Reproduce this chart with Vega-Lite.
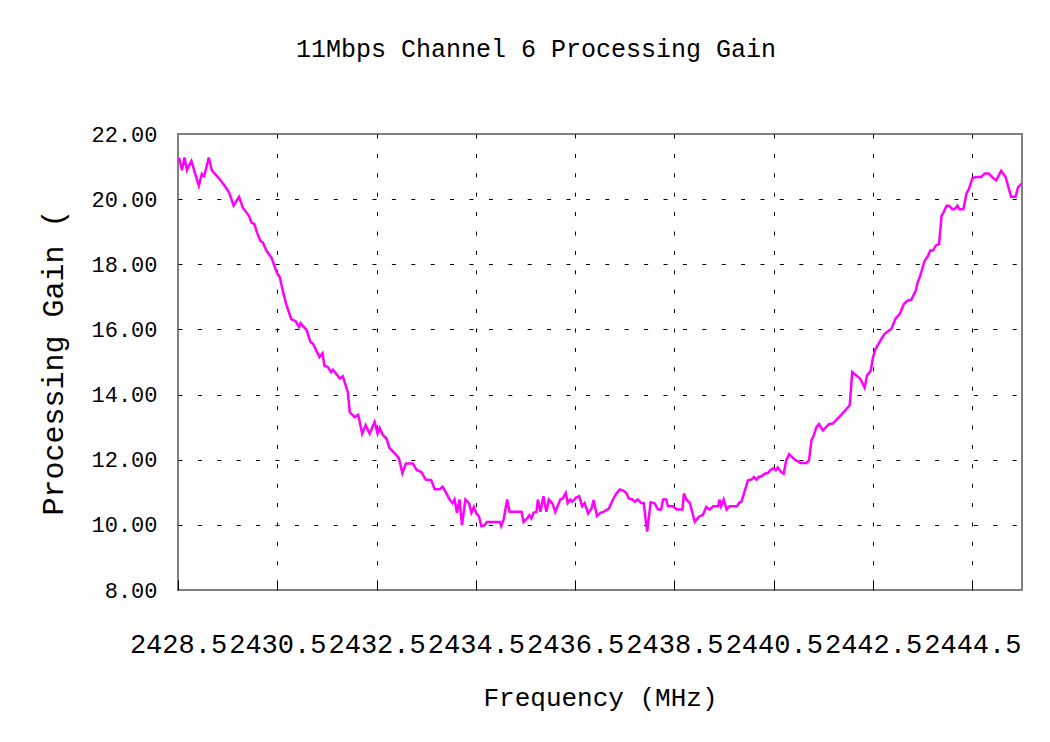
{
  "$schema": "https://vega.github.io/schema/vega-lite/v6.json",
  "width": 844,
  "height": 456,
  "autosize": "none",
  "padding": {"left": 178, "top": 134, "right": 28, "bottom": 152},
  "background": "white",
  "title": {"text": "11Mbps Channel 6 Processing Gain", "font": "Liberation Mono", "fontSize": 25, "fontWeight": "normal", "color": "#000", "anchor": "middle", "frame": "group", "dx": -64, "offset": 41, "baseline": "alphabetic"},
  "config": {
    "view": {"stroke": "#808080", "strokeWidth": 2},
    "axis": {"labelFont": "Liberation Mono", "titleFont": "Liberation Mono", "labelColor": "#000", "titleColor": "#000", "titleFontWeight": "normal", "domain": false, "gridColor": "#000", "gridDash": [4, 15.4], "gridWidth": 1}
  },
  "data": {"values": [
    {"freq": 2428.52, "gain": 21.28}, {"freq": 2428.58, "gain": 20.89}, {"freq": 2428.63, "gain": 21.28}, {"freq": 2428.68, "gain": 20.89},
    {"freq": 2428.77, "gain": 21.17}, {"freq": 2428.92, "gain": 20.41}, {"freq": 2428.98, "gain": 20.78}, {"freq": 2429.03, "gain": 20.71},
    {"freq": 2429.12, "gain": 21.28}, {"freq": 2429.18, "gain": 20.89}, {"freq": 2429.34, "gain": 20.61}, {"freq": 2429.44, "gain": 20.41},
    {"freq": 2429.53, "gain": 20.2}, {"freq": 2429.62, "gain": 19.8}, {"freq": 2429.73, "gain": 20.07}, {"freq": 2429.81, "gain": 19.72},
    {"freq": 2429.93, "gain": 19.49}, {"freq": 2429.98, "gain": 19.28}, {"freq": 2430.04, "gain": 19.23}, {"freq": 2430.09, "gain": 18.98},
    {"freq": 2430.16, "gain": 18.72}, {"freq": 2430.21, "gain": 18.67}, {"freq": 2430.28, "gain": 18.42}, {"freq": 2430.38, "gain": 18.21},
    {"freq": 2430.49, "gain": 17.75}, {"freq": 2430.55, "gain": 17.6}, {"freq": 2430.61, "gain": 17.19}, {"freq": 2430.68, "gain": 16.78},
    {"freq": 2430.78, "gain": 16.32}, {"freq": 2430.87, "gain": 16.25}, {"freq": 2430.94, "gain": 16.07}, {"freq": 2430.97, "gain": 16.19},
    {"freq": 2431.09, "gain": 15.98}, {"freq": 2431.17, "gain": 15.61}, {"freq": 2431.22, "gain": 15.56}, {"freq": 2431.35, "gain": 15.15},
    {"freq": 2431.41, "gain": 15.27}, {"freq": 2431.45, "gain": 14.89}, {"freq": 2431.52, "gain": 14.84}, {"freq": 2431.58, "gain": 14.69},
    {"freq": 2431.62, "gain": 14.76}, {"freq": 2431.76, "gain": 14.49}, {"freq": 2431.82, "gain": 14.56}, {"freq": 2431.92, "gain": 14.08},
    {"freq": 2431.96, "gain": 13.46}, {"freq": 2432.06, "gain": 13.31}, {"freq": 2432.13, "gain": 13.38}, {"freq": 2432.21, "gain": 12.8},
    {"freq": 2432.28, "gain": 13.06}, {"freq": 2432.36, "gain": 12.8}, {"freq": 2432.46, "gain": 13.16}, {"freq": 2432.52, "gain": 12.8},
    {"freq": 2432.56, "gain": 12.98}, {"freq": 2432.63, "gain": 12.75}, {"freq": 2432.7, "gain": 12.65}, {"freq": 2432.76, "gain": 12.36},
    {"freq": 2432.9, "gain": 12.14}, {"freq": 2432.95, "gain": 12.04}, {"freq": 2433.02, "gain": 11.59}, {"freq": 2433.09, "gain": 11.88},
    {"freq": 2433.23, "gain": 11.88}, {"freq": 2433.31, "gain": 11.68}, {"freq": 2433.4, "gain": 11.62}, {"freq": 2433.49, "gain": 11.39},
    {"freq": 2433.6, "gain": 11.37}, {"freq": 2433.67, "gain": 11.09}, {"freq": 2433.77, "gain": 11.09}, {"freq": 2433.83, "gain": 11.17},
    {"freq": 2433.89, "gain": 11.01}, {"freq": 2433.97, "gain": 10.78}, {"freq": 2434.03, "gain": 10.67}, {"freq": 2434.07, "gain": 10.78},
    {"freq": 2434.12, "gain": 10.37}, {"freq": 2434.17, "gain": 10.78}, {"freq": 2434.22, "gain": 9.99}, {"freq": 2434.29, "gain": 10.78},
    {"freq": 2434.36, "gain": 10.67}, {"freq": 2434.41, "gain": 10.37}, {"freq": 2434.46, "gain": 10.55}, {"freq": 2434.51, "gain": 10.35},
    {"freq": 2434.56, "gain": 10.27}, {"freq": 2434.61, "gain": 9.96}, {"freq": 2434.68, "gain": 9.99}, {"freq": 2434.72, "gain": 10.09},
    {"freq": 2434.98, "gain": 10.09}, {"freq": 2435.01, "gain": 9.96}, {"freq": 2435.06, "gain": 10.17}, {"freq": 2435.13, "gain": 10.78},
    {"freq": 2435.18, "gain": 10.4}, {"freq": 2435.42, "gain": 10.4}, {"freq": 2435.46, "gain": 10.09}, {"freq": 2435.55, "gain": 10.23},
    {"freq": 2435.58, "gain": 10.3}, {"freq": 2435.62, "gain": 10.2}, {"freq": 2435.66, "gain": 10.37}, {"freq": 2435.72, "gain": 10.4},
    {"freq": 2435.75, "gain": 10.78}, {"freq": 2435.8, "gain": 10.4}, {"freq": 2435.86, "gain": 10.88}, {"freq": 2435.92, "gain": 10.4},
    {"freq": 2435.97, "gain": 10.78}, {"freq": 2436.04, "gain": 10.66}, {"freq": 2436.1, "gain": 10.4}, {"freq": 2436.2, "gain": 10.78},
    {"freq": 2436.25, "gain": 10.81}, {"freq": 2436.31, "gain": 10.98}, {"freq": 2436.35, "gain": 10.67}, {"freq": 2436.4, "gain": 10.78},
    {"freq": 2436.44, "gain": 10.71}, {"freq": 2436.52, "gain": 10.84}, {"freq": 2436.58, "gain": 10.88}, {"freq": 2436.64, "gain": 10.57},
    {"freq": 2436.69, "gain": 10.67}, {"freq": 2436.76, "gain": 10.35}, {"freq": 2436.83, "gain": 10.5}, {"freq": 2436.87, "gain": 10.76},
    {"freq": 2436.94, "gain": 10.27}, {"freq": 2437.01, "gain": 10.37}, {"freq": 2437.07, "gain": 10.4}, {"freq": 2437.18, "gain": 10.5},
    {"freq": 2437.26, "gain": 10.78}, {"freq": 2437.33, "gain": 10.96}, {"freq": 2437.4, "gain": 11.09}, {"freq": 2437.46, "gain": 11.06},
    {"freq": 2437.53, "gain": 10.98}, {"freq": 2437.58, "gain": 10.81}, {"freq": 2437.65, "gain": 10.78}, {"freq": 2437.7, "gain": 10.71},
    {"freq": 2437.76, "gain": 10.78}, {"freq": 2437.83, "gain": 10.67}, {"freq": 2437.88, "gain": 10.67}, {"freq": 2437.95, "gain": 9.79},
    {"freq": 2438.02, "gain": 10.69}, {"freq": 2438.1, "gain": 10.66}, {"freq": 2438.17, "gain": 10.47}, {"freq": 2438.23, "gain": 10.47},
    {"freq": 2438.27, "gain": 10.78}, {"freq": 2438.33, "gain": 10.78}, {"freq": 2438.37, "gain": 10.57}, {"freq": 2438.47, "gain": 10.57},
    {"freq": 2438.55, "gain": 10.47}, {"freq": 2438.66, "gain": 10.47}, {"freq": 2438.69, "gain": 10.96}, {"freq": 2438.74, "gain": 10.78},
    {"freq": 2438.81, "gain": 10.67}, {"freq": 2438.91, "gain": 10.09}, {"freq": 2438.99, "gain": 10.25}, {"freq": 2439.07, "gain": 10.3},
    {"freq": 2439.14, "gain": 10.55}, {"freq": 2439.21, "gain": 10.47}, {"freq": 2439.28, "gain": 10.57}, {"freq": 2439.38, "gain": 10.57},
    {"freq": 2439.41, "gain": 10.78}, {"freq": 2439.44, "gain": 10.57}, {"freq": 2439.49, "gain": 10.78}, {"freq": 2439.55, "gain": 10.47},
    {"freq": 2439.61, "gain": 10.57}, {"freq": 2439.76, "gain": 10.57}, {"freq": 2439.8, "gain": 10.67}, {"freq": 2439.85, "gain": 10.71},
    {"freq": 2439.91, "gain": 11.01}, {"freq": 2439.98, "gain": 11.37}, {"freq": 2440.05, "gain": 11.39}, {"freq": 2440.1, "gain": 11.47},
    {"freq": 2440.15, "gain": 11.39}, {"freq": 2440.2, "gain": 11.47}, {"freq": 2440.25, "gain": 11.49}, {"freq": 2440.32, "gain": 11.57},
    {"freq": 2440.38, "gain": 11.59}, {"freq": 2440.43, "gain": 11.68}, {"freq": 2440.48, "gain": 11.73}, {"freq": 2440.54, "gain": 11.68},
    {"freq": 2440.58, "gain": 11.76}, {"freq": 2440.65, "gain": 11.62}, {"freq": 2440.7, "gain": 11.57}, {"freq": 2440.75, "gain": 11.98},
    {"freq": 2440.81, "gain": 12.17}, {"freq": 2440.87, "gain": 12.08}, {"freq": 2440.95, "gain": 11.98}, {"freq": 2441.04, "gain": 11.9},
    {"freq": 2441.16, "gain": 11.9}, {"freq": 2441.21, "gain": 11.98}, {"freq": 2441.26, "gain": 12.6}, {"freq": 2441.3, "gain": 12.72},
    {"freq": 2441.36, "gain": 13.0}, {"freq": 2441.41, "gain": 13.09}, {"freq": 2441.49, "gain": 12.9}, {"freq": 2441.61, "gain": 13.09},
    {"freq": 2441.69, "gain": 13.11}, {"freq": 2441.83, "gain": 13.33}, {"freq": 2442.03, "gain": 13.67}, {"freq": 2442.08, "gain": 14.69},
    {"freq": 2442.16, "gain": 14.59}, {"freq": 2442.24, "gain": 14.49}, {"freq": 2442.33, "gain": 14.21}, {"freq": 2442.38, "gain": 14.59},
    {"freq": 2442.45, "gain": 14.72}, {"freq": 2442.5, "gain": 15.15}, {"freq": 2442.55, "gain": 15.4}, {"freq": 2442.65, "gain": 15.66},
    {"freq": 2442.73, "gain": 15.86}, {"freq": 2442.82, "gain": 15.97}, {"freq": 2442.87, "gain": 16.02}, {"freq": 2442.95, "gain": 16.32},
    {"freq": 2443.04, "gain": 16.48}, {"freq": 2443.12, "gain": 16.78}, {"freq": 2443.2, "gain": 16.89}, {"freq": 2443.27, "gain": 16.91},
    {"freq": 2443.36, "gain": 17.19}, {"freq": 2443.4, "gain": 17.45}, {"freq": 2443.45, "gain": 17.65}, {"freq": 2443.54, "gain": 18.11},
    {"freq": 2443.61, "gain": 18.26}, {"freq": 2443.65, "gain": 18.42}, {"freq": 2443.71, "gain": 18.42}, {"freq": 2443.76, "gain": 18.57},
    {"freq": 2443.83, "gain": 18.62}, {"freq": 2443.88, "gain": 19.49}, {"freq": 2443.92, "gain": 19.59}, {"freq": 2443.98, "gain": 19.8},
    {"freq": 2444.03, "gain": 19.8}, {"freq": 2444.1, "gain": 19.69}, {"freq": 2444.14, "gain": 19.69}, {"freq": 2444.2, "gain": 19.8},
    {"freq": 2444.24, "gain": 19.69}, {"freq": 2444.32, "gain": 19.69}, {"freq": 2444.38, "gain": 20.17}, {"freq": 2444.43, "gain": 20.31},
    {"freq": 2444.5, "gain": 20.64}, {"freq": 2444.57, "gain": 20.68}, {"freq": 2444.68, "gain": 20.68}, {"freq": 2444.75, "gain": 20.79},
    {"freq": 2444.83, "gain": 20.79}, {"freq": 2444.91, "gain": 20.66}, {"freq": 2444.98, "gain": 20.58}, {"freq": 2445.08, "gain": 20.87},
    {"freq": 2445.17, "gain": 20.68}, {"freq": 2445.28, "gain": 20.07}, {"freq": 2445.37, "gain": 20.07}, {"freq": 2445.42, "gain": 20.36},
    {"freq": 2445.49, "gain": 20.48}
  ]},
  "mark": {"type": "line", "color": "#FF00FF", "strokeWidth": 2.5, "clip": true},
  "encoding": {
    "x": {
      "field": "freq", "type": "quantitative",
      "scale": {"domain": [2428.5, 2445.5], "nice": false, "zero": false},
      "axis": {
        "values": [2428.5, 2430.5, 2432.5, 2434.5, 2436.5, 2438.5, 2440.5, 2442.5, 2444.5],
        "format": ".1f", "labelFontSize": 27, "labelPadding": 51, "tickSize": -10, "tickColor": "#000", "tickWidth": 1,
        "labelFlush": false, "labelOverlap": false, "labelBound": false,
        "gridOpacity": {"condition": {"test": "datum.value < 2429", "value": 0}, "value": 1},
        "title": "Frequency (MHz)", "titleFontSize": 26, "titlePadding": 27
      }
    },
    "y": {
      "field": "gain", "type": "quantitative",
      "scale": {"domain": [8, 22], "nice": false, "zero": false},
      "axis": {
        "values": [8, 10, 12, 14, 16, 18, 20, 22],
        "format": ".2f", "labelFontSize": 22, "labelPadding": 21, "ticks": false,
        "gridOpacity": {"condition": {"test": "datum.value < 9 || datum.value > 21", "value": 0}, "value": 1},
        "title": "Processing Gain (", "titleFontSize": 30, "titlePadding": 22
      }
    }
  }
}
